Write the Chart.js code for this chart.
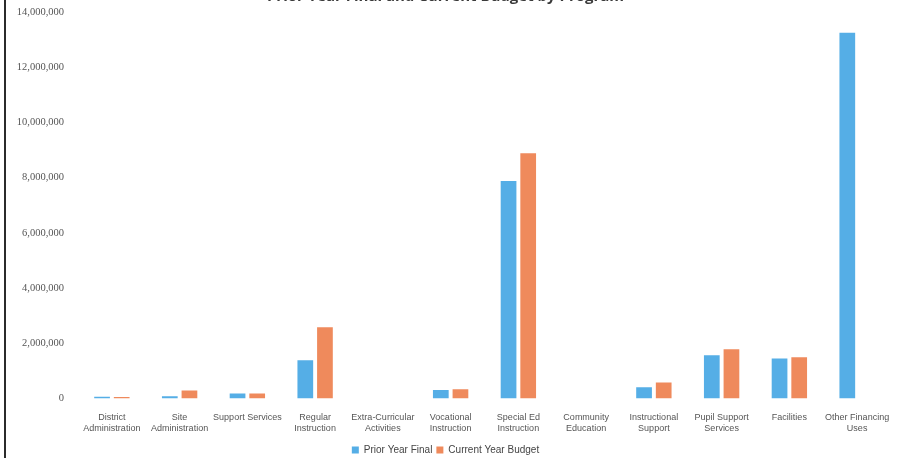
<!DOCTYPE html>
<html>
<head>
<meta charset="utf-8">
<script src="https://cdn.jsdelivr.net/npm/chart.js@4.4.1/dist/chart.umd.min.js"></script>
<style>
  html, body { margin: 0; padding: 0; background: #fff; overflow: hidden; }
  #wrap { position: relative; width: 901px; height: 458px; overflow: hidden; }
  #wrap canvas { position: absolute; left: 0; top: -12px; }
  #edge { position: absolute; left: 4px; top: 0; width: 2px; height: 458px; background: #2b2b2b; }
</style>
</head>
<body>
<div id="wrap">
  <canvas id="budget-chart" width="901" height="480"></canvas>
  <div id="edge"></div>
</div>
<script>
// programs along the x axis
var programs = [
    ["District", "Administration"],
    ["Site", "Administration"],
    "Support Services",
    ["Regular", "Instruction"],
    ["Extra-Curricular", "Activities"],
    ["Vocational", "Instruction"],
    ["Special Ed", "Instruction"],
    ["Community", "Education"],
    ["Instructional", "Support"],
    ["Pupil Support", "Services"],
    "Facilities",
    ["Other Financing", "Uses"]
];

var priorYearFinal    = [60000, 80000, 180000, 1380000, 0, 300000, 7880000, 0, 400000, 1560000, 1450000, 13250000];
var currentYearBudget = [50000, 290000, 180000, 2580000, 0, 330000, 8880000, 0, 580000, 1780000, 1490000, 0];

var yTicks = [0, 2000000, 4000000, 6000000, 8000000, 10000000, 12000000, 14000000];

var ctx = document.getElementById("budget-chart").getContext("2d");
var budgetChart = new Chart(ctx, {
    type: 'bar',
    data: {
        labels: programs,
        datasets: [
            {
                label: "Prior Year Final",
                data: priorYearFinal,
                backgroundColor: '#55aee6',
                categoryPercentage: 0.58,
                barPercentage: 0.8
            },
            {
                label: "Current Year Budget",
                data: currentYearBudget,
                backgroundColor: '#ef8a5c',
                categoryPercentage: 0.58,
                barPercentage: 0.8
            }
        ]
    },
    options: {
        responsive: false,
        animation: false,
        layout: { padding: { left: 0, right: 10, top: 0, bottom: 3 } },
        plugins: {
            title: {
                display: true,
                text: 'Prior Year Final and Current Budget by Program',
                color: '#3a3a3a',
                font: { family: 'Open Sans', size: 15, weight: 'bold' },
                padding: { top: 0, bottom: 6 }
            },
            legend: {
                position: 'bottom',
                labels: {
                    boxWidth: 7,
                    boxHeight: 7,
                    color: '#444',
                    padding: 4,
                    font: { family: 'Liberation Sans', size: 10 }
                }
            },
            tooltip: { enabled: false }
        },
        scales: {
            x: {
                afterFit: function(axis) { axis.height = axis.height + 1; },
                grid: { display: false },
                border: { display: false },
                ticks: {
                    color: '#555',
                    maxRotation: 0,
                    autoSkip: false,
                    padding: 6,
                    font: { family: 'Liberation Sans', size: 9 }
                }
            },
            y: {
                min: 0,
                max: 14000000,
                afterBuildTicks: function(axis) {
                    axis.ticks = yTicks.map(function(v) { return { value: v }; });
                },
                afterFit: function(axis) { axis.width = 78; },
                grid: { display: false },
                border: { display: false },
                ticks: {
                    color: '#555',
                    padding: 6,
                    font: { family: 'Liberation Serif', size: 10.5 },
                    callback: function(v) { return v.toLocaleString('en-US'); }
                }
            }
        }
    }
});
</script>
</body>
</html>
